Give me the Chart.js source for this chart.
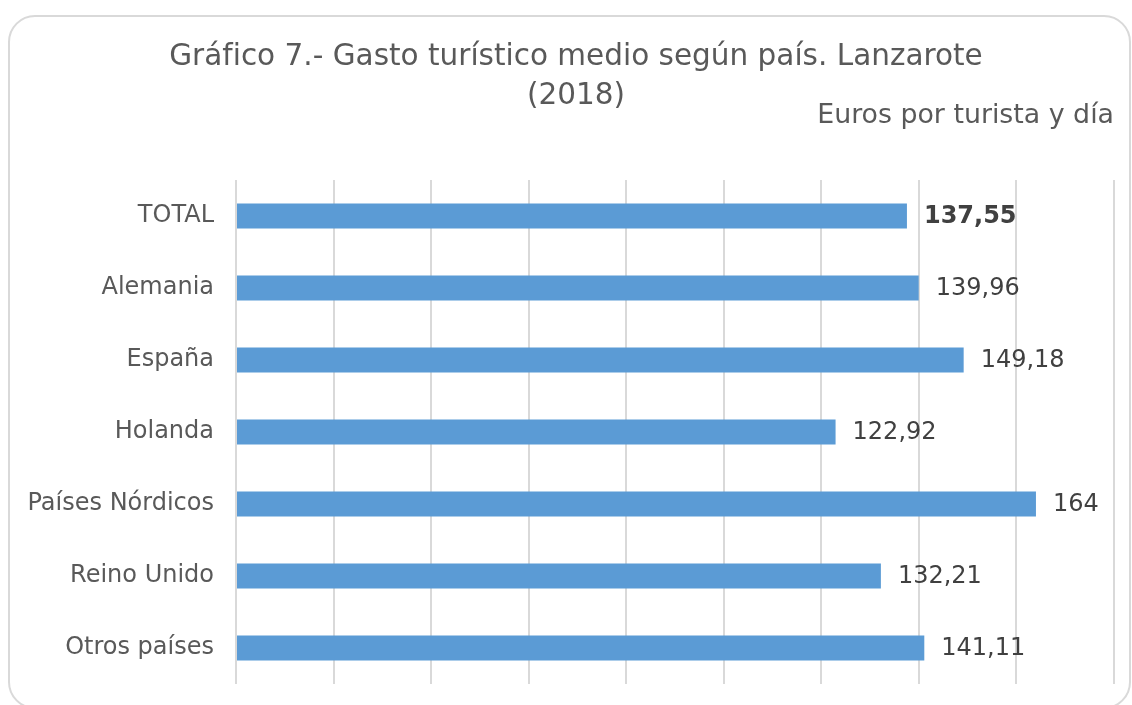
<!DOCTYPE html>
<html>
<head>
<meta charset="utf-8">
<script src="https://cdn.jsdelivr.net/npm/chart.js@4/dist/chart.umd.min.js"></script>
<style>
  html, body { margin: 0; padding: 0; background: #ffffff; overflow: hidden; width: 1132px; height: 705px; }
  #c { display: block; }
</style>
</head>
<body>
<canvas id="c" width="1132" height="705"></canvas>
<script>
const categories = ["TOTAL", "Alemania", "España", "Holanda", "Países Nórdicos", "Reino Unido", "Otros países"];
const gasto = [137.55, 139.96, 149.18, 122.92, 164, 132.21, 141.11];
const valueLabels = ["137,55", "139,96", "149,18", "122,92", "164", "132,21", "141,11"];
const titleLines = ["Gráfico 7.- Gasto turístico medio según país. Lanzarote", "(2018)"];
const unitLabel = "Euros por turista y día";

const FONT = "DejaVu Sans";

const framePlugin = {
  id: 'framePlugin',
  beforeDraw(chart) {
    const ctx = chart.ctx;
    ctx.save();
    ctx.fillStyle = '#ffffff';
    ctx.fillRect(0, 0, chart.width, chart.height);
    ctx.strokeStyle = '#d9d9d9';
    ctx.lineWidth = 2;
    ctx.beginPath();
    ctx.roundRect(9, 16, 1121, 692, 26);
    ctx.stroke();
    ctx.restore();
  }
};

const textPlugin = {
  id: 'textPlugin',
  afterDraw(chart) {
    const ctx = chart.ctx;
    ctx.save();
    ctx.fillStyle = '#595959';
    ctx.textBaseline = 'alphabetic';
    ctx.textAlign = 'center';
    ctx.font = '29.5px "' + FONT + '"';
    if ('textRendering' in ctx) ctx.textRendering = 'optimizeSpeed';
    ctx.fillText(titleLines[0], 576, 65);
    ctx.fillText(titleLines[1], 576, 104);
    ctx.textAlign = 'right';
    ctx.font = '26.8px "' + FONT + '"';
    ctx.fillText(unitLabel, 1114, 123);
    const meta = chart.getDatasetMeta(0);
    ctx.textAlign = 'left';
    ctx.textBaseline = 'middle';
    meta.data.forEach((bar, i) => {
      ctx.fillStyle = '#404040';
      ctx.font = (i === 0 ? 'bold ' : '') + '24px "' + FONT + '"';
      ctx.fillText(valueLabels[i], bar.x + 17, bar.y + 1);
    });
    ctx.restore();
  }
};

new Chart(document.getElementById('c'), {
  type: 'bar',
  data: {
    labels: categories,
    datasets: [{
      data: gasto,
      backgroundColor: '#5b9bd5',
      borderWidth: 0,
      categoryPercentage: 1,
      barPercentage: 0.35
    }]
  },
  options: {
    indexAxis: 'y',
    responsive: false,
    animation: false,
    devicePixelRatio: 1,
    layout: { padding: { top: 180, bottom: 21, right: 18, left: 0 } },
    plugins: { legend: { display: false }, title: { display: false }, tooltip: { enabled: false } },
    scales: {
      x: {
        min: 0, max: 180,
        ticks: { display: false, stepSize: 20 },
        grid: { color: '#d9d9d9', lineWidth: 2, drawTicks: false },
        border: { display: false }
      },
      y: {
        ticks: { color: '#595959', font: { family: FONT, size: 24 }, padding: 22 },
        grid: { display: false, drawTicks: false },
        border: { display: false },
        afterFit(scale) { scale.width = 236; scale.paddingTop = 0; scale.paddingBottom = 0; }
      }
    }
  },
  plugins: [framePlugin, textPlugin]
});
</script>
</body>
</html>
